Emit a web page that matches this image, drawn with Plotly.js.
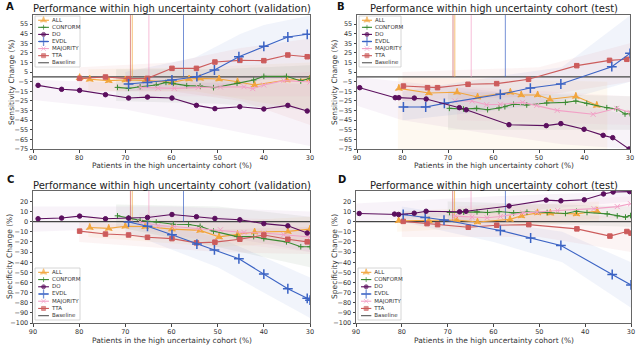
<!DOCTYPE html>
<html><head><meta charset="utf-8">
<script src="https://cdn.plot.ly/plotly-3.0.1.min.js"></script>
<style>html,body{margin:0;padding:0;background:#fff}#chart{width:640px;height:345px}</style>
</head><body><div id="chart"></div>
<script>
// ---------- series names / styling ----------
const methods = ['ALL','CONFORM','DO','EVDL','MAJORITY','TTA'];
const legendNames = ['ALL','CONFORM','DO','EVDL','MAJORITY','TTA','Baseline'];
const xTicks = [90,80,70,60,50,40,30];
const sensTicks = [55,45,35,25,15,5,-5,-15,-25,-35,-45,-55,-65,-75];
const specTicks = [20,10,0,-10,-20,-30,-40,-50,-60,-70,-80,-90,-100];
const thresholdX = [68.9, 68.5, 64.9, 57.4];
const thresholdMethod = ['TTA','ALL','MAJORITY','EVDL'];

// ---------- Panel A : sensitivity, validation ----------
const A_ALL_x = [79.9,77.7,73.6,70,65.7,59.9,56.2,53.8,49.7,45.7,42,35,30];
const A_ALL_y = [-0.8,-2.5,-3.9,-3.2,-3.6,-5.7,-2.2,-1.5,-2.2,-5,-8.4,-3.2,-2.2];
const A_CONFORM_x = [71.7,69.3,66.8,63.3,61.2,59.6,56.7,53.8,50.9,45.8,42.2,40,35.1,32,30];
const A_CONFORM_y = [-10.9,-11.9,-10.2,-8.4,-5.7,-6.7,-9.1,-9.5,-11.2,-6.7,-3.2,0.6,0.6,-4.3,-1.5];
const A_DO_x = [88.9,83.8,79.9,74.3,69.3,65.2,59.9,54.6,50.6,45.2,40,34.8,30.6];
const A_DO_y = [-8.8,-12.9,-14,-18.5,-22,-21,-22,-29.6,-33,-31,-33.4,-29.6,-35.5];
const A_EVDL_x = [69.3,65.2,59.9,54.5,50.7,45.4,40,34.8,30.6];
const A_EVDL_y = [-7.4,-5.7,-3.2,0.2,7.2,21,31.8,41.5,44.3];
const A_MAJORITY_x = [66.8,62.9,59.4,54.2,49.4,44.3,42.4,40,35.7,30];
const A_MAJORITY_y = [-10.9,-11.6,-11.9,-10.9,-10.5,-10.2,-12.2,-8.4,-3.9,-5.3];
const A_TTA_x = [79.9,74.3,69.3,65.2,59.9,54.6,50.6,45.2,40,34.8,30.6];
const A_TTA_y = [-1.5,-0.1,-1.8,-1.5,8.9,8.9,15.5,17.2,16.9,22.8,21];

// ---------- Panel B : sensitivity, test ----------
const B_ALL_x = [80.8,74.2,68,63.5,56.3,53.9,50.3,47.6,41.9,37.3];
const B_ALL_y = [-11.9,-16.7,-16,-20.9,-16,-18.8,-18.8,-23.3,-20.2,-29.6];
const B_CONFORM_x = [69.7,66.6,63.7,61.3,58.8,57.5,55.6,52.7,48.3,44.2,41.9,39.5,35.1,32.9,31.1,30];
const B_CONFORM_y = [-32.7,-33.4,-32.7,-34.1,-32.3,-31,-28.5,-29.2,-27.1,-26.5,-25.1,-27.5,-32,-33.4,-38.6,-38.2];
const B_DO_x = [89.4,81.6,80.8,77.4,74.8,67.5,66,56.6,48.4,45.2,40.1,35.9,33.8,30.2];
const B_DO_y = [-11.2,-21.6,-21.6,-22,-23,-32,-34.2,-49.7,-50.7,-48.6,-54.5,-60.8,-63.2,-75];
const B_EVDL_x = [79.8,74.9,70.8,58.5,51.9,45.2,34,30];
const B_EVDL_y = [-31.3,-31.3,-27.5,-18.1,-11.6,-7.4,10.6,24.5];
const B_MAJORITY_x = [68.5,64.7,61.5,58.5,53.6,50.5,46,38.1,32.9,30];
const B_MAJORITY_y = [-25.1,-25.1,-28.9,-28.5,-26.5,-29.6,-34.8,-38.9,-32.7,-36.9];
const B_TTA_x = [79.8,74.5,72.3,65.6,59.3,52.3,41.7,34.5,30.7];
const B_TTA_y = [-9.5,-11.2,-11.2,-7.7,-7,-2.5,11.7,17.2,18.3];

// ---------- Panel C : specificity, validation ----------
const C_ALL_x = [77.7,73.6,70,65.7,59.9,53.8,49.7,45.7,42,34.8,30];
const C_ALL_y = [-5.7,-6.6,-4.5,-4.8,-7.3,-8.6,-15,-12.5,-10.2,-9.6,-7.3];
const C_CONFORM_x = [71.7,69.3,66.8,63.3,59.6,56.3,53.8,50.9,45.8,42.2,40,35.1,32,30];
const C_CONFORM_y = [5.8,3.6,1.3,-0.3,-2.5,-2.8,-4.5,-9.3,-14.7,-14.7,-16.7,-19.9,-24.7,-24.7];
const C_DO_x = [88.9,83.8,79.9,74.3,69.3,65.2,59.9,54.6,50.6,45.2,40,34.8,30.6];
const C_DO_y = [2.9,3.6,5.5,2.9,3.6,4.2,7.1,4.9,3.2,1.9,-1.9,-4.1,-11.2];
const C_EVDL_x = [69.3,65.2,59.9,54.5,50.7,45.4,40,34.8,30.6,30];
const C_EVDL_y = [-0.3,-4.5,-12.8,-22.1,-27.9,-36.6,-51.7,-66.2,-75.6,-77.5];
const C_MAJORITY_x = [66.8,62.9,59.4,54.2,49.4,44.3,40,35.7,30];
const C_MAJORITY_y = [-0.3,-3.8,-4.8,-6.7,-8,-10.6,-11.2,-12.8,-15.1];
const C_TTA_x = [79.9,74.3,69.3,65.2,59.9,54.6,50.6,45.2,40,34.8,30.6];
const C_TTA_y = [-9.3,-12.2,-13.1,-15.4,-16.7,-20.9,-20.2,-17.3,-13.1,-17.3,-19.9];

// ---------- Panel D : specificity, test ----------
const D_ALL_x = [80.7,74.1,68,63.5,56.4,53.9,50.4,47.6,41.9,37.4];
const D_ALL_y = [1,1,1.6,-0.3,2.3,5.8,8.7,8.4,7.7,10.6];
const D_CONFORM_x = [69.6,66.5,63.6,61.3,58.8,55.6,52.7,48.3,44.3,41.9,39.6,35.2,33,31.2,30.1];
const D_CONFORM_y = [9.1,9.4,9.7,9.1,10,8.7,9.4,9.1,8.1,10.3,9.1,7.7,5.8,4.5,6.1];
const D_DO_x = [89.3,81.6,80.7,77.3,74.7,67.4,66,56.6,48.5,45.3,40.2,36,33.9,30.3];
const D_DO_y = [8.1,7.5,7.1,8.4,10.3,9.7,10.3,15.5,21.3,20.6,21.6,27.4,29.3,29.7];
const D_EVDL_x = [79.7,74.9,70.8,58.5,51.9,45.3,34.1,30];
const D_EVDL_y = [7.1,4.2,1.6,-8.7,-16.1,-23.4,-52.1,-62.4];
const D_MAJORITY_x = [68.4,64.7,61.4,58.5,53.6,50.5,46,38.1,33,30.1];
const D_MAJORITY_y = [5.5,4.5,3.9,5.2,8.7,9.4,11,12.9,14.9,17.7];
const D_TTA_x = [79.7,74.5,72.2,65.5,59.3,52.3,41.8,34.6,30.9,30];
const D_TTA_y = [0.3,-1.9,-2.9,-5.5,-3.5,-2.9,-7.1,-14.2,-9.7,-11.3];

// ---------- uncertainty bands (x, low, high) ----------
const A_bands = {
  DO:{x:[90,70,50,30],lo:[-24,-34,-53,-72],hi:[-3,-6,-6,-7]},
  EVDL:{x:[70,55,45,40,30],lo:[-15,-12,-8,-3,0],hi:[5,20,45,54,64]},
  TTA:{x:[80,60,45,30],lo:[-15,-15,-25,-50],hi:[10,15,30,40]},
  ALL:{x:[78,55,30],lo:[-15,-15,-35],hi:[8,10,15]},
  CONFORM:{x:[72,50,30],lo:[-25,-28,-35],hi:[8,8,12]},
  MAJORITY:{x:[67,50,30],lo:[-20,-20,-20],hi:[0,0,5]}
};
const B_bands = {
  DO:{x:[90,80,60,45,30],lo:[-30,-45,-60,-70,-75],hi:[0,-5,-15,-25,-40]},
  EVDL:{x:[80,60,45,30],lo:[-45,-35,-25,-5],hi:[-15,0,10,64]},
  TTA:{x:[80,50,30],lo:[-25,-20,-5],hi:[5,10,35]},
  ALL:{x:[81,35],lo:[-75,-75],hi:[0,-5]},
  CONFORM:{x:[70,30],lo:[-55,-55],hi:[-15,-20]},
  MAJORITY:{x:[68,30],lo:[-45,-50],hi:[-10,-20]}
};
const C_bands = {
  DO:{x:[90,60,30],lo:[-10,-5,-30],hi:[15,15,10]},
  EVDL:{x:[70,50,30],lo:[-10,-45,-95],hi:[5,-15,-55]},
  TTA:{x:[80,50,30],lo:[-20,-30,-32],hi:[0,-8,-5]},
  ALL:{x:[78,50,30],lo:[-15,-25,-20],hi:[5,0,5]},
  CONFORM:{x:[72,50,30],lo:[-5,-25,-45],hi:[17,15,5]},
  MAJORITY:{x:[67,50,30],lo:[-8,-20,-30],hi:[8,5,0]}
};
const D_bands = {
  DO:{x:[90,60,30],lo:[0,8,20],hi:[18,25,30]},
  EVDL:{x:[80,60,45,30],lo:[0,-20,-40,-85],hi:[15,0,-10,-40]},
  TTA:{x:[80,50,30],lo:[-15,-15,-30],hi:[10,8,5]},
  ALL:{x:[81,37],lo:[-10,0],hi:[10,20]},
  CONFORM:{x:[70,30],lo:[0,-5],hi:[20,15]},
  MAJORITY:{x:[68,30],lo:[-5,5],hi:[15,25]}
};

// ---------- styling ----------
const col = {ALL:'#f2a53c', CONFORM:'#3a8a32', DO:'#5b0f5e', EVDL:'#3b63c4', MAJORITY:'#f2a0c6', TTA:'#cc5c5c', Baseline:'#555555'};
const rgb = {ALL:'242,175,80', CONFORM:'80,120,80', DO:'160,100,180', EVDL:'80,110,200', MAJORITY:'240,150,190', TTA:'215,120,110'};
const sym = {ALL:'star-triangle-up', CONFORM:'cross-thin-open', DO:'circle', EVDL:'cross-thin-open', MAJORITY:'x-thin-open', TTA:'square'};
const msz = {ALL:5, CONFORM:4, DO:4.5, EVDL:7, MAJORITY:5, TTA:4.5};
const FONT = 'DejaVu Sans, sans-serif';

const panels = [
  {id:'A', xa:'x', ya:'y', data:{ALL:[A_ALL_x,A_ALL_y],CONFORM:[A_CONFORM_x,A_CONFORM_y],DO:[A_DO_x,A_DO_y],EVDL:[A_EVDL_x,A_EVDL_y],MAJORITY:[A_MAJORITY_x,A_MAJORITY_y],TTA:[A_TTA_x,A_TTA_y]}, bands:A_bands, top:64.4},
  {id:'B', xa:'x2', ya:'y2', data:{ALL:[B_ALL_x,B_ALL_y],CONFORM:[B_CONFORM_x,B_CONFORM_y],DO:[B_DO_x,B_DO_y],EVDL:[B_EVDL_x,B_EVDL_y],MAJORITY:[B_MAJORITY_x,B_MAJORITY_y],TTA:[B_TTA_x,B_TTA_y]}, bands:B_bands, top:64.4},
  {id:'C', xa:'x3', ya:'y3', data:{ALL:[C_ALL_x,C_ALL_y],CONFORM:[C_CONFORM_x,C_CONFORM_y],DO:[C_DO_x,C_DO_y],EVDL:[C_EVDL_x,C_EVDL_y],MAJORITY:[C_MAJORITY_x,C_MAJORITY_y],TTA:[C_TTA_x,C_TTA_y]}, bands:C_bands, top:30.3},
  {id:'D', xa:'x4', ya:'y4', data:{ALL:[D_ALL_x,D_ALL_y],CONFORM:[D_CONFORM_x,D_CONFORM_y],DO:[D_DO_x,D_DO_y],EVDL:[D_EVDL_x,D_EVDL_y],MAJORITY:[D_MAJORITY_x,D_MAJORITY_y],TTA:[D_TTA_x,D_TTA_y]}, bands:D_bands, top:30.3}
];

const traces = [];
panels.forEach(p => {
  methods.forEach(m => {
    const b = p.bands[m];
    traces.push({x: b.x.concat(b.x.slice().reverse()), y: b.hi.concat(b.lo.slice().reverse()),
      xaxis:p.xa, yaxis:p.ya, mode:'lines', line:{width:0}, fill:'toself',
      fillcolor:'rgba('+rgb[m]+',0.08)', hoverinfo:'skip', showlegend:false});
  });
  traces.push({x:[90,30], y:[0,0], xaxis:p.xa, yaxis:p.ya, mode:'lines', line:{color:'#444', width:1.2}, showlegend:false});
  thresholdX.forEach((v,i) => {
    traces.push({x:[v,v], y:[0,p.top], xaxis:p.xa, yaxis:p.ya, mode:'lines', opacity:0.7,
      line:{color:col[thresholdMethod[i]], width:1}, showlegend:false});
  });
  ['ALL','CONFORM','MAJORITY','TTA','EVDL','DO'].forEach(m => {
    const d = p.data[m];
    traces.push({x:d[0], y:d[1], xaxis:p.xa, yaxis:p.ya, mode:'lines+markers', name:m, showlegend:false,
      line:{color:col[m], width:1.1}, cliponaxis:true,
      marker:{symbol:sym[m], size:msz[m], color:col[m], line:{color:col[m], width:(m==='EVDL'?1.5:1)}}});
  });
});

// ---------- legends (drawn on small helper axes) ----------
const legBoxes = [[35,80,16,67],[359,401,16,67],[35,80,268,320],[358,401,268,320]];
const W = 640, H = 345;
const layout = {
  width:W, height:H, margin:{l:0,r:0,t:0,b:0}, paper_bgcolor:'#fff', plot_bgcolor:'rgba(0,0,0,0)',
  showlegend:false, font:{family:FONT, color:'#333'}, shapes:[], annotations:[]
};
const dom = [
  {x:[33/W,310/W], y:[1-149/H,1-15/H]},
  {x:[357/W,630/W], y:[1-149/H,1-15/H]},
  {x:[33/W,310/W], y:[1-323/H,1-191/H]},
  {x:[356/W,631/W], y:[1-323/H,1-191/H]}
];
panels.forEach((p,k) => {
  const xk = k===0?'xaxis':'xaxis'+(k+1), yk = k===0?'yaxis':'yaxis'+(k+1);
  const sens = k<2;
  layout[xk] = {domain:dom[k].x, anchor:p.ya, range:[90,30], tickvals:xTicks, ticks:'outside', ticklen:2.5, tickcolor:'#444',
    showline:true, mirror:true, linecolor:'#666', linewidth:1, showgrid:false, zeroline:false,
    tickfont:{size:6.5, family:FONT, color:'#333'}};
  layout[yk] = {domain:dom[k].y, anchor:p.xa, range:[sens?-75:-100, p.top], tickvals:sens?sensTicks:specTicks,
    ticks:'outside', ticklen:2.5, tickcolor:'#444', showline:true, mirror:true, linecolor:'#666', linewidth:1,
    showgrid:false, zeroline:false, tickfont:{size:6.5, family:FONT, color:'#333'}};
  const bx = legBoxes[k];
  const lx = 'xaxis'+(k+5), ly = 'yaxis'+(k+5);
  layout[lx] = {domain:[bx[0]/W, bx[1]/W], range:[0,1], visible:false, fixedrange:true, anchor:'y'+(k+5)};
  layout[ly] = {domain:[1-bx[3]/H, 1-bx[2]/H], range:[6.6,-0.6], visible:false, fixedrange:true, anchor:'x'+(k+5)};
  layout.shapes.push({type:'rect', xref:'paper', yref:'paper', x0:bx[0]/W, x1:bx[1]/W, y0:1-bx[3]/H, y1:1-bx[2]/H,
    line:{color:'#cccccc', width:0.8}, fillcolor:'rgba(255,255,255,0.8)', layer:'below'});
  legendNames.forEach((nm,i) => {
    const t = {x:[0.07,0.19,0.31], y:[i,i,i], xaxis:'x'+(k+5), yaxis:'y'+(k+5), mode:'lines',
      showlegend:false, hoverinfo:'skip', line:{color:col[nm], width:1.1}};
    if (nm !== 'Baseline') {
      t.mode = 'lines+markers';
      t.marker = {symbol:sym[nm], size:[0,msz[nm]-0.5,0], color:col[nm], line:{color:col[nm], width:(nm==='EVDL'?1.3:1)}};
    }
    traces.push(t);
  });
  traces.push({x:legendNames.map(()=>0.38), y:legendNames.map((n,i)=>i), text:legendNames, xaxis:'x'+(k+5), yaxis:'y'+(k+5),
    mode:'text', textposition:'middle right', cliponaxis:false, textfont:{size:5.5, family:FONT, color:'#333'}, showlegend:false, hoverinfo:'skip'});
});

// ---------- titles ----------
const titles = ['Performance within high uncertainty cohort (validation)','Performance within high uncertainty cohort (test)',
                'Performance within high uncertainty cohort (validation)','Performance within high uncertainty cohort (test)'];
const yTitles = ['Sensitivity Change (%)','Sensitivity Change (%)','Specificity Change (%)','Specificity Change (%)'];
const letters = ['A','B','C','D'];
const titleY = [8, 8, 185, 185];
const letterPos = [[10,7],[341,7],[10,179],[342,179]];
const xTitleY = [165, 165, 340.5, 340.5];
const yTitleX = [11, 334, 9, 334];
panels.forEach((p,k) => {
  const cx = (dom[k].x[0]+dom[k].x[1])/2;
  layout.annotations.push({text:titles[k], xref:'paper', yref:'paper', x:cx, y:1-titleY[k]/H, xanchor:'center', yanchor:'middle',
    showarrow:false, font:{size:10, family:FONT, color:'#222'}});
  layout.annotations.push({text:'<b>'+letters[k]+'</b>', xref:'paper', yref:'paper', x:letterPos[k][0]/W, y:1-letterPos[k][1]/H,
    xanchor:'center', yanchor:'middle', showarrow:false, font:{size:10, family:FONT, color:'#111'}});
  layout.annotations.push({text:'Patients in the high uncertainty cohort (%)', xref:'paper', yref:'paper', x:cx, y:1-xTitleY[k]/H,
    xanchor:'center', yanchor:'middle', showarrow:false, font:{size:7.5, family:FONT, color:'#333'}});
  layout.annotations.push({text:yTitles[k], xref:'paper', yref:'paper', x:yTitleX[k]/W, y:(dom[k].y[0]+dom[k].y[1])/2,
    xanchor:'center', yanchor:'middle', textangle:-90, showarrow:false, font:{size:7.5, family:FONT, color:'#333'}});
});

Plotly.newPlot('chart', traces, layout, {staticPlot:true, displayModeBar:false});
</script>
</body></html>
